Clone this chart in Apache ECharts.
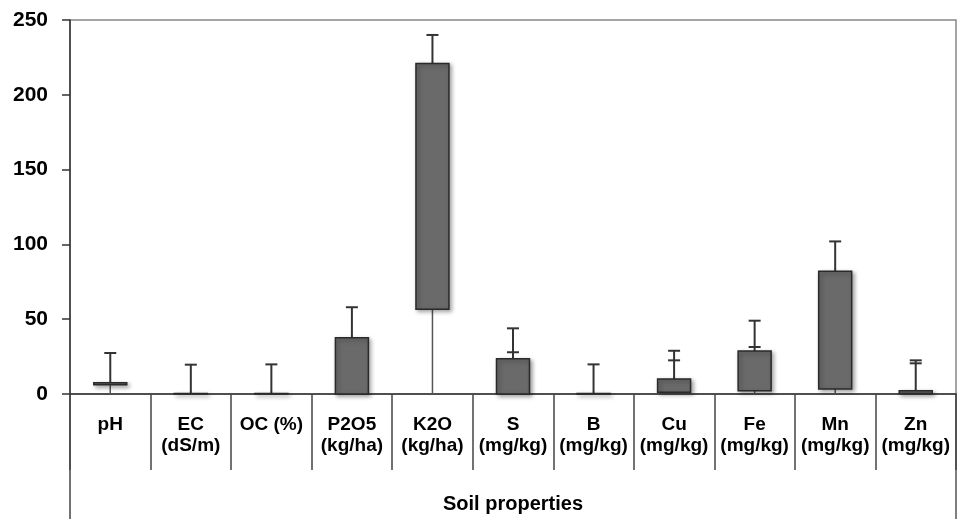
<!DOCTYPE html>
<html>
<head>
<meta charset="utf-8">
<script src="https://cdn.jsdelivr.net/npm/echarts@6/dist/echarts.min.js"></script>
<style>
html,body{margin:0;padding:0;background:#fff;}
#chart{width:958px;height:519px;}
</style>
</head>
<body>
<div id="chart"></div>
<script>
const categories = ['pH', 'EC\n(dS/m)', 'OC (%)', 'P2O5\n(kg/ha)', 'K2O\n(kg/ha)', 'S\n(mg/kg)', 'B\n(mg/kg)', 'Cu\n(mg/kg)', 'Fe\n(mg/kg)', 'Mn\n(mg/kg)', 'Zn\n(mg/kg)'];
const lowValues  = [6.2, 0, 0, 0, 56.6, 0, 0, 1.1, 2.2, 3.3, 0.3];
const highValues = [7.6, 0.4, 0.3, 37.6, 221, 23.6, 0.4, 10, 28.7, 82, 2.2];
const upperCaps  = [27.4, 19.6, 19.8, 58, 240, 43.9, 19.8, 28.9, 49, 102, 22.5];
const secondCaps = [null, null, null, null, null, 27.9, null, 22.5, 31.4, null, 20.5];
const yTicks = { min: 0, max: 250, interval: 50 };

const seriesData = categories.map((c, i) => [
  i, lowValues[i], highValues[i], upperCaps[i], secondCaps[i] == null ? '-' : secondCaps[i]
]);

function renderItem(params, api) {
  const x = api.value(0);
  const low = api.value(1), high = api.value(2), cap = api.value(3), cap2 = api.value(4);
  const pZero = api.coord([x, 0]);
  const pLow = api.coord([x, low]);
  const pHigh = api.coord([x, high]);
  const pCap = api.coord([x, cap]);
  const bw = 33;
  const cw = 12;
  const children = [];
  if (low > 0) {
    children.push({ type: 'line', shape: { x1: pZero[0], y1: pZero[1], x2: pLow[0], y2: pLow[1] },
      style: { stroke: '#555', lineWidth: 1.5 } });
  }
  children.push({ type: 'line', shape: { x1: pHigh[0], y1: pHigh[1], x2: pCap[0], y2: pCap[1] },
    style: { stroke: '#333', lineWidth: 2 } });
  children.push({ type: 'line', shape: { x1: pCap[0] - cw / 2, y1: pCap[1], x2: pCap[0] + cw / 2, y2: pCap[1] },
    style: { stroke: '#333', lineWidth: 2 } });
  if (!isNaN(cap2)) {
    const p2 = api.coord([x, cap2]);
    children.push({ type: 'line', shape: { x1: p2[0] - cw / 2, y1: p2[1], x2: p2[0] + cw / 2, y2: p2[1] },
      style: { stroke: '#333', lineWidth: 2 } });
  }
  children.push({ type: 'rect', shape: { x: pHigh[0] - bw / 2, y: pHigh[1], width: bw, height: Math.max(pLow[1] - pHigh[1], 0.5) },
    style: { fill: '#6a6a6a', stroke: '#2a2a2a', lineWidth: 1.5,
      shadowBlur: 4, shadowOffsetX: 2, shadowOffsetY: 2, shadowColor: 'rgba(0,0,0,0.35)' } });
  return { type: 'group', children };
}

const font = 'Liberation Sans, Arial';
const chart = echarts.init(document.getElementById('chart'), null, { renderer: 'canvas' });
chart.setOption({
  animation: false,
  backgroundColor: '#fff',
  grid: [
    { left: 70, right: 2, top: 20, bottom: 125, show: true, borderColor: '#888', borderWidth: 1.5 },
    { left: 70, right: 2, top: 394, bottom: 0, show: false }
  ],
  xAxis: [
    {
      type: 'category', data: categories, gridIndex: 0,
      axisLine: { show: true, lineStyle: { color: '#333', width: 1.5 } },
      axisTick: { show: true, length: 76, lineStyle: { color: '#444', width: 1.5 } },
      axisLabel: { interval: 0, margin: 20, fontFamily: font, fontWeight: 'bold',
        fontSize: 19, color: '#000', lineHeight: 21 },
      name: 'Soil properties', nameLocation: 'middle', nameGap: 100,
      nameTextStyle: { fontFamily: font, fontWeight: 'bold', fontSize: 20, color: '#000' }
    },
    { type: 'value', gridIndex: 1, show: false }
  ],
  yAxis: [
    {
      type: 'value', gridIndex: 0, min: yTicks.min, max: yTicks.max, interval: yTicks.interval,
      axisLine: { show: true, lineStyle: { color: '#333', width: 1.5 } },
      axisTick: { show: true, length: 8, lineStyle: { color: '#333', width: 1.5 } },
      splitLine: { show: false },
      axisLabel: { margin: 22, fontFamily: font, fontWeight: 'bold', fontSize: 21, color: '#000' }
    },
    {
      type: 'value', gridIndex: 1, position: 'left',
      axisLine: { show: true, lineStyle: { color: '#444', width: 1.5 } },
      axisTick: { show: false }, axisLabel: { show: false }, splitLine: { show: false }
    },
    {
      type: 'value', gridIndex: 1, position: 'right',
      axisLine: { show: true, lineStyle: { color: '#555', width: 1.5 } },
      axisTick: { show: false }, axisLabel: { show: false }, splitLine: { show: false }
    }
  ],
  series: [{
    type: 'custom', xAxisIndex: 0, yAxisIndex: 0,
    renderItem: renderItem,
    encode: { x: 0, y: [1, 2, 3] },
    data: seriesData,
    z: 3
  }]
});
</script>
</body>
</html>
